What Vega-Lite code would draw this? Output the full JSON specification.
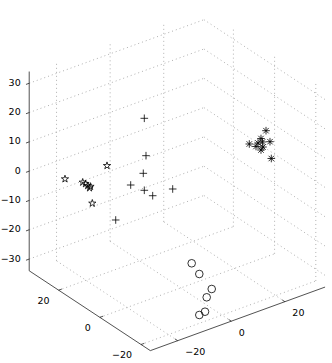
{
  "$schema": "https://vega.github.io/schema/vega-lite/v6.json",
  "width": 332,
  "height": 363,
  "padding": 0,
  "autosize": {"type": "none"},
  "background": "white",
  "config": {"view": {"stroke": null}},
  "datasets": {
    "grid": [
      {"a1": 34.3, "b1": -30.2, "z1": -30, "a2": 34.3, "b2": 35, "z2": -30},
      {"a1": 34.3, "b1": -30.2, "z1": -20, "a2": 34.3, "b2": 35, "z2": -20},
      {"a1": 34.3, "b1": -30.2, "z1": -10, "a2": 34.3, "b2": 35, "z2": -10},
      {"a1": 34.3, "b1": -30.2, "z1": 0, "a2": 34.3, "b2": 35, "z2": 0},
      {"a1": 34.3, "b1": -30.2, "z1": 10, "a2": 34.3, "b2": 35, "z2": 10},
      {"a1": 34.3, "b1": -30.2, "z1": 20, "a2": 34.3, "b2": 35, "z2": 20},
      {"a1": 34.3, "b1": -30.2, "z1": 30, "a2": 34.3, "b2": 35, "z2": 30},
      {"a1": 34.3, "b1": -20, "z1": -34, "a2": 34.3, "b2": -20, "z2": 34},
      {"a1": 34.3, "b1": 0, "z1": -34, "a2": 34.3, "b2": 0, "z2": 34},
      {"a1": 34.3, "b1": 20, "z1": -34, "a2": 34.3, "b2": 20, "z2": 34},
      {"a1": 34.3, "b1": 35, "z1": -30, "a2": -24.5, "b2": 35, "z2": -30},
      {"a1": 34.3, "b1": 35, "z1": -20, "a2": -24.5, "b2": 35, "z2": -20},
      {"a1": 34.3, "b1": 35, "z1": -10, "a2": -24.5, "b2": 35, "z2": -10},
      {"a1": 34.3, "b1": 35, "z1": 0, "a2": -24.5, "b2": 35, "z2": 0},
      {"a1": 34.3, "b1": 35, "z1": 10, "a2": -24.5, "b2": 35, "z2": 10},
      {"a1": 34.3, "b1": 35, "z1": 20, "a2": -24.5, "b2": 35, "z2": 20},
      {"a1": 34.3, "b1": 35, "z1": 30, "a2": -24.5, "b2": 35, "z2": 30},
      {"a1": 20, "b1": 35, "z1": -34, "a2": 20, "b2": 35, "z2": 34},
      {"a1": 0, "b1": 35, "z1": -34, "a2": 0, "b2": 35, "z2": 34},
      {"a1": -20, "b1": 35, "z1": -34, "a2": -20, "b2": 35, "z2": 34},
      {"a1": 20, "b1": -30.2, "z1": -34, "a2": 20, "b2": 35, "z2": -34},
      {"a1": 0, "b1": -30.2, "z1": -34, "a2": 0, "b2": 35, "z2": -34},
      {"a1": -20, "b1": -30.2, "z1": -34, "a2": -20, "b2": 35, "z2": -34},
      {"a1": -24.5, "b1": -20, "z1": -34, "a2": 34.3, "b2": -20, "z2": -34},
      {"a1": -24.5, "b1": 0, "z1": -34, "a2": 34.3, "b2": 0, "z2": -34},
      {"a1": -24.5, "b1": 20, "z1": -34, "a2": 34.3, "b2": 20, "z2": -34}
    ],
    "axes": [
      {"a1": 34.3, "b1": -30.2, "z1": -34, "a2": 34.3, "b2": -30.2, "z2": 34},
      {"a1": -24.5, "b1": -30.2, "z1": -34, "a2": 34.3, "b2": -30.2, "z2": -34},
      {"a1": -24.5, "b1": -30.2, "z1": -34, "a2": -24.5, "b2": 35, "z2": -34},
      {"a1": 34.3, "b1": -30.2, "z1": -30, "a2": 34.3, "b2": -31.4, "z2": -30},
      {"a1": 34.3, "b1": -30.2, "z1": -20, "a2": 34.3, "b2": -31.4, "z2": -20},
      {"a1": 34.3, "b1": -30.2, "z1": -10, "a2": 34.3, "b2": -31.4, "z2": -10},
      {"a1": 34.3, "b1": -30.2, "z1": 0, "a2": 34.3, "b2": -31.4, "z2": 0},
      {"a1": 34.3, "b1": -30.2, "z1": 10, "a2": 34.3, "b2": -31.4, "z2": 10},
      {"a1": 34.3, "b1": -30.2, "z1": 20, "a2": 34.3, "b2": -31.4, "z2": 20},
      {"a1": 34.3, "b1": -30.2, "z1": 30, "a2": 34.3, "b2": -31.4, "z2": 30},
      {"a1": 20, "b1": -30.2, "z1": -34, "a2": 20, "b2": -29, "z2": -34},
      {"a1": 0, "b1": -30.2, "z1": -34, "a2": 0, "b2": -29, "z2": -34},
      {"a1": -20, "b1": -30.2, "z1": -34, "a2": -20, "b2": -29, "z2": -34},
      {"a1": -24.5, "b1": -20, "z1": -34, "a2": -23.2, "b2": -20, "z2": -34},
      {"a1": -24.5, "b1": 0, "z1": -34, "a2": -23.2, "b2": 0, "z2": -34},
      {"a1": -24.5, "b1": 20, "z1": -34, "a2": -23.2, "b2": 20, "z2": -34}
    ],
    "zlabels": [
      {"a": 34.3, "b": -30.2, "z": 30, "label": "30"},
      {"a": 34.3, "b": -30.2, "z": 20, "label": "20"},
      {"a": 34.3, "b": -30.2, "z": 10, "label": "10"},
      {"a": 34.3, "b": -30.2, "z": 0, "label": "0"},
      {"a": 34.3, "b": -30.2, "z": -10, "label": "−10"},
      {"a": 34.3, "b": -30.2, "z": -20, "label": "−20"},
      {"a": 34.3, "b": -30.2, "z": -30, "label": "−30"}
    ],
    "alabels": [
      {"a": 20, "b": -30.2, "z": -34, "label": "20"},
      {"a": 0, "b": -30.2, "z": -34, "label": "0"},
      {"a": -20, "b": -30.2, "z": -34, "label": "−20"}
    ],
    "blabels": [
      {"a": -24.5, "b": -20, "z": -34, "label": "−20"},
      {"a": -24.5, "b": 0, "z": -34, "label": "0"},
      {"a": -24.5, "b": 20, "z": -34, "label": "20"}
    ],
    "points": [
      {"cluster": "star", "a": 20, "b": -12.16, "z": 2.49},
      {"cluster": "star", "a": 20, "b": -27.84, "z": 3.17},
      {"cluster": "star", "a": 20, "b": -21.23, "z": -0.16},
      {"cluster": "star", "a": 20, "b": -20.19, "z": -1.02},
      {"cluster": "star", "a": 20, "b": -19.37, "z": -1.94},
      {"cluster": "star", "a": 20, "b": -18.69, "z": -2.95},
      {"cluster": "star", "a": 20, "b": -18.32, "z": -2.56},
      {"cluster": "star", "a": 20, "b": -17.65, "z": -8.52},
      {"cluster": "plus", "a": 10, "b": -5.93, "z": 21.23},
      {"cluster": "plus", "a": 10, "b": -5.30, "z": 8.26},
      {"cluster": "plus", "a": 10, "b": -6.31, "z": 2.58},
      {"cluster": "plus", "a": 10, "b": -11.01, "z": 0.15},
      {"cluster": "plus", "a": 10, "b": -5.93, "z": -3.34},
      {"cluster": "plus", "a": 10, "b": -2.80, "z": -6.23},
      {"cluster": "plus", "a": 10, "b": 4.66, "z": -6.42},
      {"cluster": "plus", "a": 10, "b": -16.60, "z": -9.93},
      {"cluster": "asterisk", "a": -5, "b": 27.95, "z": 12.68},
      {"cluster": "asterisk", "a": -5, "b": 21.72, "z": 10.21},
      {"cluster": "asterisk", "a": -5, "b": 29.44, "z": 8.43},
      {"cluster": "asterisk", "a": -5, "b": 26.08, "z": 10.63},
      {"cluster": "asterisk", "a": -5, "b": 24.96, "z": 9.47},
      {"cluster": "asterisk", "a": -5, "b": 26.64, "z": 9.26},
      {"cluster": "asterisk", "a": -5, "b": 24.22, "z": 8.53},
      {"cluster": "asterisk", "a": -5, "b": 26.08, "z": 6.71},
      {"cluster": "asterisk", "a": -5, "b": 26.83, "z": 7.48},
      {"cluster": "asterisk", "a": -5, "b": 29.93, "z": 2.53},
      {"cluster": "circle", "a": -20, "b": -11.31, "z": -12.56},
      {"cluster": "circle", "a": -20, "b": -8.47, "z": -17.16},
      {"cluster": "circle", "a": -20, "b": -3.84, "z": -23.82},
      {"cluster": "circle", "a": -20, "b": -5.71, "z": -26.03},
      {"cluster": "circle", "a": -20, "b": -6.34, "z": -30.74},
      {"cluster": "circle", "a": -20, "b": -8.47, "z": -31.15}
    ]
  },
  "layer": [
    {
      "data": {"name": "grid"},
      "transform": [
        {"calculate": "180.8 + 2.68*datum.b1 - 2.06*datum.a1", "as": "sx1"},
        {"calculate": "188.3 - 0.975*datum.b1 - 1.358*datum.a1 - 2.93*datum.z1", "as": "sy1"},
        {"calculate": "180.8 + 2.68*datum.b2 - 2.06*datum.a2", "as": "sx2"},
        {"calculate": "188.3 - 0.975*datum.b2 - 1.358*datum.a2 - 2.93*datum.z2", "as": "sy2"}
      ],
      "mark": {"type": "rule", "color": "#b0b0b0", "strokeWidth": 1, "strokeDash": [1, 3]},
      "encoding": {
        "x": {"field": "sx1", "type": "quantitative", "scale": {"domain": [0, 332], "nice": false, "zero": false}, "axis": null},
        "y": {"field": "sy1", "type": "quantitative", "scale": {"domain": [0, 363], "nice": false, "zero": false, "reverse": true}, "axis": null},
        "x2": {"field": "sx2"},
        "y2": {"field": "sy2"}
      }
    },
    {
      "data": {"name": "axes"},
      "transform": [
        {"calculate": "180.8 + 2.68*datum.b1 - 2.06*datum.a1", "as": "sx1"},
        {"calculate": "188.3 - 0.975*datum.b1 - 1.358*datum.a1 - 2.93*datum.z1", "as": "sy1"},
        {"calculate": "180.8 + 2.68*datum.b2 - 2.06*datum.a2", "as": "sx2"},
        {"calculate": "188.3 - 0.975*datum.b2 - 1.358*datum.a2 - 2.93*datum.z2", "as": "sy2"}
      ],
      "mark": {"type": "rule", "color": "#262626", "strokeWidth": 0.8},
      "encoding": {
        "x": {"field": "sx1", "type": "quantitative", "scale": {"domain": [0, 332], "nice": false, "zero": false}, "axis": null},
        "y": {"field": "sy1", "type": "quantitative", "scale": {"domain": [0, 363], "nice": false, "zero": false, "reverse": true}, "axis": null},
        "x2": {"field": "sx2"},
        "y2": {"field": "sy2"}
      }
    },
    {
      "data": {"name": "zlabels"},
      "transform": [
        {"calculate": "180.8 + 2.68*datum.b - 2.06*datum.a", "as": "sx"},
        {"calculate": "188.3 - 0.975*datum.b - 1.358*datum.a - 2.93*datum.z", "as": "sy"}
      ],
      "mark": {"type": "text", "align": "right", "baseline": "middle", "dx": -8.5, "dy": -0.5, "font": "DejaVu Sans", "fontSize": 9.5, "color": "black"},
      "encoding": {
        "x": {"field": "sx", "type": "quantitative", "scale": {"domain": [0, 332], "nice": false, "zero": false}, "axis": null},
        "y": {"field": "sy", "type": "quantitative", "scale": {"domain": [0, 363], "nice": false, "zero": false, "reverse": true}, "axis": null},
        "text": {"field": "label"}
      }
    },
    {
      "data": {"name": "alabels"},
      "transform": [
        {"calculate": "180.8 + 2.68*datum.b - 2.06*datum.a", "as": "sx"},
        {"calculate": "188.3 - 0.975*datum.b - 1.358*datum.a - 2.93*datum.z", "as": "sy"}
      ],
      "mark": {"type": "text", "align": "right", "baseline": "middle", "dx": -9, "dy": 10.5, "font": "DejaVu Sans", "fontSize": 9.5, "color": "black"},
      "encoding": {
        "x": {"field": "sx", "type": "quantitative", "scale": {"domain": [0, 332], "nice": false, "zero": false}, "axis": null},
        "y": {"field": "sy", "type": "quantitative", "scale": {"domain": [0, 363], "nice": false, "zero": false, "reverse": true}, "axis": null},
        "text": {"field": "label"}
      }
    },
    {
      "data": {"name": "blabels"},
      "transform": [
        {"calculate": "180.8 + 2.68*datum.b - 2.06*datum.a", "as": "sx"},
        {"calculate": "188.3 - 0.975*datum.b - 1.358*datum.a - 2.93*datum.z", "as": "sy"}
      ],
      "mark": {"type": "text", "align": "left", "baseline": "middle", "dx": 7.5, "dy": 11.6, "font": "DejaVu Sans", "fontSize": 9.5, "color": "black"},
      "encoding": {
        "x": {"field": "sx", "type": "quantitative", "scale": {"domain": [0, 332], "nice": false, "zero": false}, "axis": null},
        "y": {"field": "sy", "type": "quantitative", "scale": {"domain": [0, 363], "nice": false, "zero": false, "reverse": true}, "axis": null},
        "text": {"field": "label"}
      }
    },
    {
      "data": {"name": "points"},
      "transform": [
        {"calculate": "180.8 + 2.68*datum.b - 2.06*datum.a", "as": "sx"},
        {"calculate": "188.3 - 0.975*datum.b - 1.358*datum.a - 2.93*datum.z", "as": "sy"}
      ],
      "mark": {"type": "point", "filled": false, "size": 58, "strokeWidth": 0.8, "color": "black", "opacity": 1},
      "encoding": {
        "x": {"field": "sx", "type": "quantitative", "scale": {"domain": [0, 332], "nice": false, "zero": false}, "axis": null},
        "y": {"field": "sy", "type": "quantitative", "scale": {"domain": [0, 363], "nice": false, "zero": false, "reverse": true}, "axis": null},
        "shape": {
          "field": "cluster",
          "type": "nominal",
          "scale": {
            "domain": ["star", "plus", "asterisk", "circle"],
            "range": [
              "M0,-1L0.2245,-0.309L0.951,-0.309L0.363,0.118L0.588,0.809L0,0.382L-0.588,0.809L-0.363,0.118L-0.951,-0.309L-0.2245,-0.309Z",
              "M-1,0L1,0M0,-1L0,1",
              "M-1,0L1,0M0,-1L0,1M-0.72,-0.72L0.72,0.72M-0.72,0.72L0.72,-0.72",
              "circle"
            ]
          },
          "legend": null
        }
      }
    }
  ]
}
